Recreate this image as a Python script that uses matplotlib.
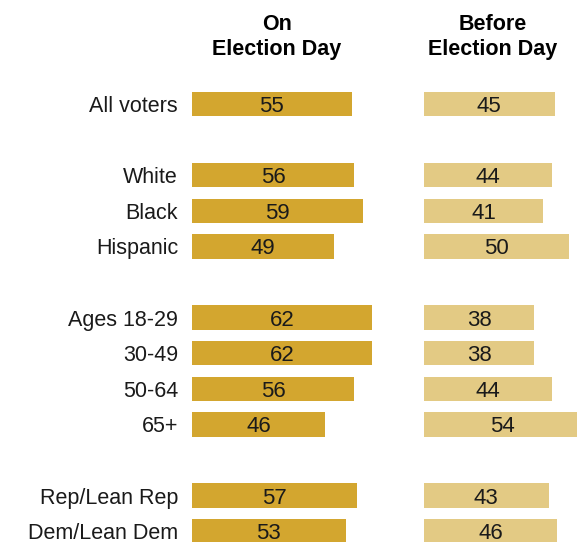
import matplotlib.pyplot as plt

categories = ['All voters', 'White', 'Black', 'Hispanic', 'Ages 18-29',
              '30-49', '50-64', '65+', 'Rep/Lean Rep', 'Dem/Lean Dem']
rows = [0, 2, 3, 4, 6, 7, 8, 9, 11, 12]
on_day = [55, 56, 59, 49, 62, 62, 56, 46, 57, 53]
before_day = [45, 44, 41, 50, 38, 38, 44, 54, 43, 46]

W, H = 577, 542
PX = 2.9          # pixels per percentage point
ROW = 35.6        # pixels per row
Y0 = 104          # pixel y of first row

plt.rcParams['font.family'] = ['Liberation Sans', 'DejaVu Sans']
fig = plt.figure(figsize=(W / 100, H / 100), dpi=100)

ylim = ((H - Y0) / ROW, -Y0 / ROW)


def panel(left, right, values, color):
    ax = fig.add_axes([left / W, 0, (right - left) / W, 1])
    ax.barh(rows, values, height=0.68, color=color)
    for r, v in zip(rows, values):
        ax.text(v / 2, r, str(v), ha='center', va='center_baseline',
                fontsize=16, color='#1a1a1a')
    ax.set_xlim(0, (right - left) / PX)
    ax.set_ylim(*ylim)
    ax.axis('off')
    return ax


ax1 = panel(192, 400, on_day, '#D3A62F')
ax2 = panel(424, 577, before_day, '#E3CA84')

for r, c in zip(rows, categories):
    ax1.text(-14 / PX, r, c, ha='right', va='center_baseline', fontsize=15.5, color='#1a1a1a')

for x, title in [(277, 'On\nElection Day'), (493, 'Before\nElection Day')]:
    fig.text(x / W, 1 - 37 / H, title, ha='center', va='center',
             fontsize=15.5, fontweight='bold', linespacing=1.3)

fig.savefig('out.png', dpi=100)
